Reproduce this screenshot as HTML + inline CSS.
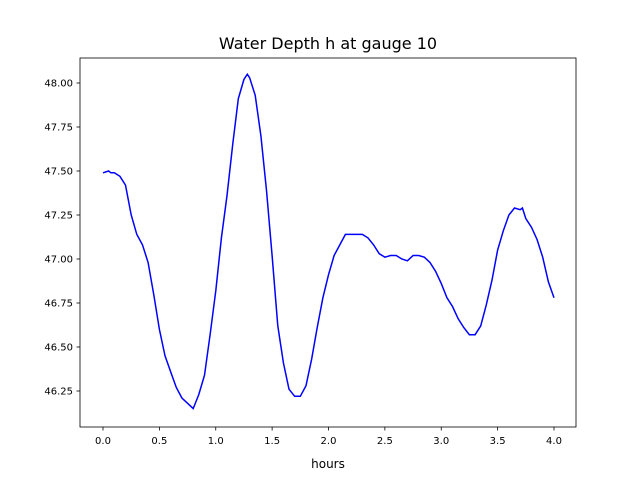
<!DOCTYPE html>
<html><head><meta charset="utf-8"><style>
body{margin:0;background:#fff;}
svg{font-family:"DejaVu Sans","Liberation Sans",sans-serif;}
</style></head><body>
<svg id="chart" width="640" height="480" viewBox="0 0 640 480" xmlns="http://www.w3.org/2000/svg">
<rect width="640" height="480" fill="#fff"/>
<text x="328" y="49" text-anchor="middle" font-size="16">Water Depth h at gauge 10</text>
<text x="328" y="468" text-anchor="middle" font-size="12">hours</text>
<g id="axes"></g>
</svg>
<script>
const hours=[0,0.05,0.07,0.1,0.15,0.2,0.25,0.3,0.35,0.4,0.45,0.5,0.55,0.6,0.65,0.7,0.75,0.8,0.85,0.9,0.95,1.0,1.05,1.1,1.15,1.2,1.25,1.28,1.3,1.35,1.4,1.45,1.5,1.55,1.6,1.65,1.7,1.75,1.8,1.85,1.9,1.95,2.0,2.05,2.1,2.15,2.2,2.25,2.3,2.35,2.4,2.45,2.5,2.55,2.6,2.65,2.7,2.75,2.8,2.85,2.9,2.95,3.0,3.05,3.1,3.15,3.2,3.25,3.3,3.35,3.4,3.45,3.5,3.55,3.6,3.65,3.7,3.72,3.75,3.8,3.85,3.9,3.95,4.0];
const depth=[47.49,47.50,47.49,47.49,47.47,47.42,47.25,47.14,47.08,46.98,46.80,46.60,46.45,46.36,46.27,46.21,46.18,46.15,46.23,46.34,46.57,46.82,47.12,47.36,47.65,47.91,48.02,48.05,48.03,47.93,47.70,47.39,47.02,46.62,46.41,46.26,46.22,46.22,46.28,46.43,46.61,46.78,46.91,47.02,47.08,47.14,47.14,47.14,47.14,47.12,47.08,47.03,47.01,47.02,47.02,47.00,46.99,47.02,47.02,47.01,46.98,46.93,46.86,46.78,46.73,46.66,46.61,46.57,46.57,46.62,46.74,46.88,47.05,47.16,47.25,47.29,47.28,47.29,47.23,47.18,47.11,47.01,46.87,46.78];
const xTicks=[0,0.5,1,1.5,2,2.5,3,3.5,4];
const xTickLabels=["0.0","0.5","1.0","1.5","2.0","2.5","3.0","3.5","4.0"];
const yTicks=[46.25,46.5,46.75,47,47.25,47.5,47.75,48];
const yTickLabels=["46.25","46.50","46.75","47.00","47.25","47.50","47.75","48.00"];
const L=80,R=576,T=58,B=427;
const sx=v=>103+v*112.75;
const sy=v=>83+(48-v)*176;
const NS="http://www.w3.org/2000/svg";
const g=document.getElementById('axes');
function mk(t,a){const e=document.createElementNS(NS,t);for(const k in a)e.setAttribute(k,a[k]);g.appendChild(e);return e;}
const pts=hours.map((h,i)=>sx(h).toFixed(1)+","+sy(depth[i]).toFixed(1)).join(" ");
const line=mk('polyline',{points:pts,fill:"none",stroke:"#0000ff","stroke-width":1.5});


xTicks.forEach((v,i)=>{
 const t=mk('line',{x1:sx(v),x2:sx(v),y1:B,y2:B+3.5,stroke:"#000","stroke-width":0.8});
 
 
 const l=mk('text',{x:sx(v),y:B+17,"text-anchor":"middle","font-size":10});
 l.textContent=xTickLabels[i];
 
 
});
yTicks.forEach((v,i)=>{
 const t=mk('line',{x1:L-3.5,x2:L,y1:sy(v),y2:sy(v),stroke:"#000","stroke-width":0.8});
 
 
 const l=mk('text',{x:L-7,y:sy(v)+3.5,"text-anchor":"end","font-size":10});
 l.textContent=yTickLabels[i];
 
 
});
const f=mk('rect',{x:L,y:T,width:R-L,height:B-T,fill:"none",stroke:"#000","stroke-width":0.8});


</script>
</body></html>
